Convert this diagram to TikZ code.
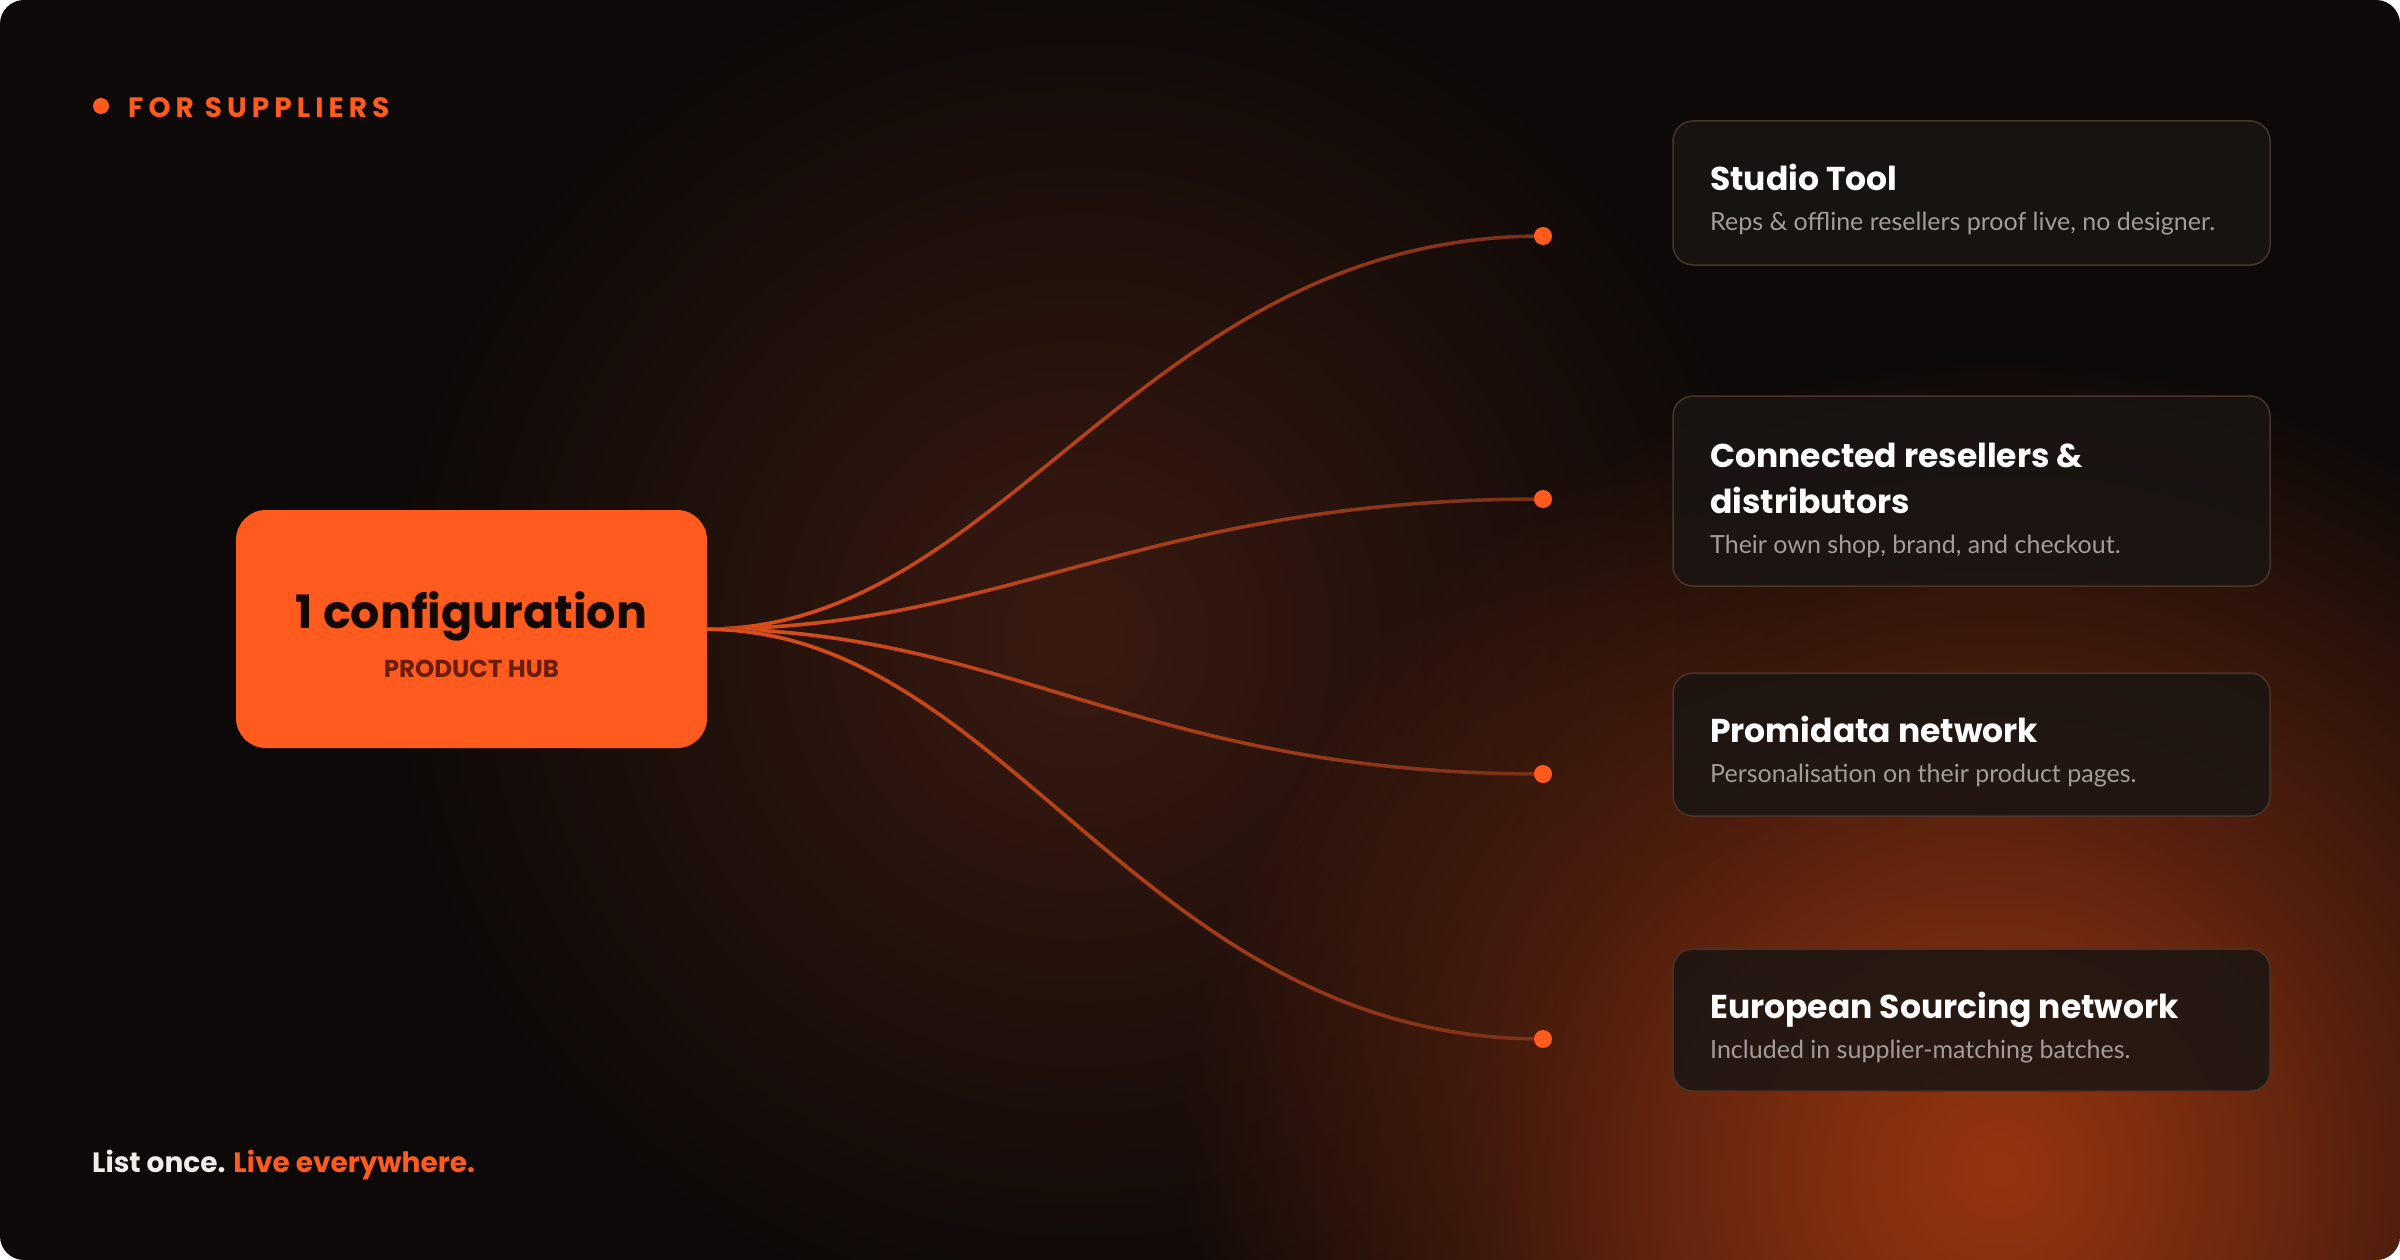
\documentclass[tikz,border=0pt]{standalone}
\usepackage{fontspec}
\setmainfont{Poppins}
\newfontfamily\subfont{Lato}
\usetikzlibrary{fadings}
\definecolor{bgdark}{HTML}{0C0908}
\definecolor{glowor}{HTML}{943512}
\definecolor{glowbr}{HTML}{3A1A10}
\definecolor{hubor}{HTML}{FF5B1F}
\definecolor{hubsub}{HTML}{6B1D06}
\definecolor{hubtxt}{HTML}{140804}
\definecolor{linedim}{HTML}{7A3018}
\definecolor{linebright}{HTML}{E0501C}
\definecolor{cardfill}{HTML}{1A1513}
\definecolor{cardline}{HTML}{4A3328}
\definecolor{subgrey}{HTML}{A39C98}
\definecolor{tagwhite}{HTML}{F0ECE8}
\tikzfading[name=radfade, inner color=transparent!0, outer color=transparent!100]
\tikzfading[name=xfade, left color=transparent!0, right color=transparent!100]
\tikzset{
  hubbox/.style={fill=hubor, rounded corners=30pt, minimum width=471pt, minimum height=238pt, inner sep=0pt},
  card/.style={fill=cardfill, fill opacity=0.85, draw=cardline, line width=1.5pt, rounded corners=20pt, minimum width=597pt, inner sep=0pt},
  ctitle/.style={anchor=base west, inner sep=0pt, text=white, font=\fontsize{33}{40}\selectfont\bfseries},
  csub/.style={anchor=base west, inner sep=0pt, text=subgrey, font=\subfont\fontsize{25}{30}\selectfont},
  dotn/.style={circle, fill=hubor, minimum size=18pt, inner sep=0pt},
  linkbase/.style={draw=linedim, line width=3.5pt},
  linkglow/.style={draw=linebright, line width=3.5pt, path fading=xfade},
}
\begin{document}
\begin{tikzpicture}[x=1pt,y=-1pt]
\useasboundingbox (0,0) rectangle (2400,1260);
\fill[white] (0,0) rectangle (2400,1260);
\begin{scope}
  \clip[rounded corners=24pt] (0,0) rectangle (2400,1260);
  \fill[bgdark] (0,0) rectangle (2400,1260);
  \fill[glowbr, path fading=radfade] (1080,640) circle (720pt);
  \fill[glowor, path fading=radfade] (2000,1170) circle (820pt);
  \fill[glowor, opacity=0.35, path fading=radfade] (1930,1190) circle (450pt);
\end{scope}

% header
\node[circle, fill=hubor, minimum size=16pt, inner sep=0pt] (hdot) at (101,106) {};
\node[anchor=base west, inner sep=0pt, text=hubor, font=\fontsize{28}{32}\selectfont\bfseries\addfontfeatures{LetterSpace=18}] (hdr) at (128,118) {FOR SUPPLIERS};

% hub
\node[hubbox] (hub) at (471.5,629) {};
\node[anchor=base, inner sep=0pt, text=hubtxt, font=\fontsize{46}{52}\selectfont\bfseries] (hubt) at (471.5,628) {1 configuration};
\node[anchor=base, inner sep=0pt, text=hubsub, font=\fontsize{24.5}{30}\selectfont\bfseries] (hubs) at (471.5,677) {PRODUCT HUB};

% end points
\coordinate (p1) at (1543,236);
\coordinate (p2) at (1543,499);
\coordinate (p3) at (1543,774);
\coordinate (p4) at (1543,1039);

\foreach \p in {p1,p2,p3,p4}{
  \draw[linkbase] (hub.east) .. controls +(300,0) and +(-400,0) .. (\p);
  \draw[linkglow] (hub.east) .. controls +(300,0) and +(-400,0) .. (\p);
}
\node[dotn] (d1) at (p1) {};
\node[dotn] (d2) at (p2) {};
\node[dotn] (d3) at (p3) {};
\node[dotn] (d4) at (p4) {};

% cards
\node[card, minimum height=144pt] (c1) at (1971.5,193) {};
\node[ctitle] (c1t) at (1710,190) {Studio Tool};
\node[csub] (c1s) at (1710,230) {Reps \& offline resellers proof live, no designer.};

\node[card, minimum height=190pt] (c2) at (1971.5,491) {};
\node[ctitle] (c2t) at (1710,467) {Connected resellers \&};
\node[ctitle] (c2u) at (1710,513) {distributors};
\node[csub] (c2s) at (1710,553) {Their own shop, brand, and checkout.};

\node[card, minimum height=143pt] (c3) at (1971.5,744.5) {};
\node[ctitle] (c3t) at (1710,742) {Promidata network};
\node[csub] (c3s) at (1710,782) {Personalisation on their product pages.};

\node[card, minimum height=142pt] (c4) at (1971.5,1020) {};
\node[ctitle] (c4t) at (1710,1018) {European Sourcing network};
\node[csub] (c4s) at (1710,1058) {Included in supplier-matching batches.};

% tagline
\node[anchor=base west, inner sep=0pt, font=\fontsize{28}{34}\selectfont\bfseries] (tag) at (92,1172) {\textcolor{tagwhite}{List once.} \textcolor{hubor}{Live everywhere.}};
\end{tikzpicture}
\end{document}
